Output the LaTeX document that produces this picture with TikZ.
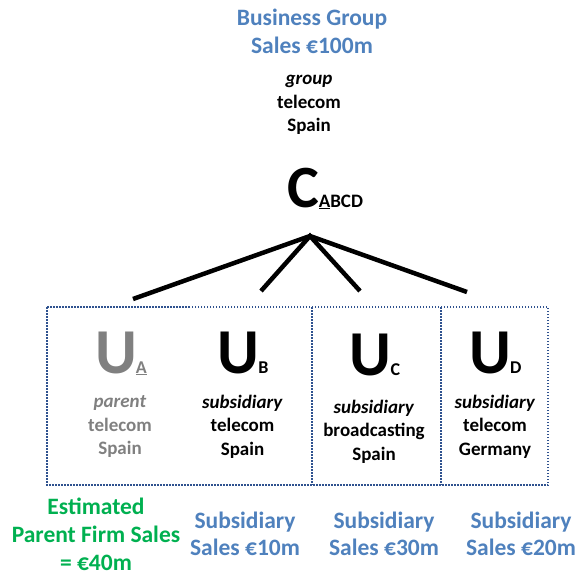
\documentclass[tikz,border=0pt]{standalone}
\usepackage{fontspec}
\setmainfont{Carlito}
\definecolor{bizblue}{RGB}{79,129,189}
\definecolor{estgreen}{RGB}{0,176,80}
\definecolor{boxnavy}{RGB}{47,82,143}
\definecolor{parentgray}{RGB}{128,128,128}
\begin{document}
\begin{tikzpicture}[x=1pt,y=-1pt,
  bluelabel/.style={text=bizblue, font=\bfseries\fontsize{23.5}{27.5}\selectfont, align=center, inner sep=0pt},
  greenlabel/.style={text=estgreen, font=\bfseries\fontsize{23.5}{28}\selectfont, align=center, inner sep=0pt},
  desc/.style={font=\bfseries\fontsize{19}{23.5}\selectfont, align=center, inner sep=0pt},
  bigletter/.style={font=\bfseries, inner sep=0pt, anchor=base},
  tie/.style={line width=4.5pt, black},
  dotbox/.style={boxnavy, line width=1.5pt, dash pattern=on 1.5pt off 1.5pt}
]
\useasboundingbox (0,0) rectangle (577,576);

% top titles
\node[bluelabel] (bg) at (312,31.5) {Business Group\\Sales €100m};
\node[desc] (gdesc) at (309,105) {\textit{group}\\telecom\\Spain};
\node[bigletter] (C) at (325,207) {{\fontsize{60}{60}\selectfont C}{\fontsize{19}{19}\selectfont\underline{A}BCD}};

% connectors
\coordinate (hub) at (310,236);
\coordinate (ea) at (133,299);
\coordinate (eb) at (261,291);
\coordinate (ec) at (360,291);
\coordinate (ed) at (467,292);
\draw[tie] (ea) -- (hub) -- (ed);
\draw[tie] (eb) -- (hub) -- (ec);

% dotted box
\draw[dotbox] (47,307) rectangle (548,485);
\draw[dotbox] (312,307) -- (312,485);
\draw[dotbox] (441,307) -- (441,485);

% units
\node[bigletter, text=parentgray] (UA) at (121,373) {{\fontsize{64}{64}\selectfont U}\hspace{-1pt}{\fontsize{18}{18}\selectfont\underline{A}}};
\node[bigletter] (UB) at (243,373) {{\fontsize{64}{64}\selectfont U}\hspace{-1pt}{\fontsize{18}{18}\selectfont B}};
\node[bigletter] (UC) at (375,375) {{\fontsize{64}{64}\selectfont U}\hspace{-1pt}{\fontsize{18}{18}\selectfont C}};
\node[bigletter] (UD) at (495.5,373) {{\fontsize{64}{64}\selectfont U}\hspace{-1pt}{\fontsize{18}{18}\selectfont D}};

\node[desc, text=parentgray] (da) at (120,426.5) {\textit{parent}\\telecom\\Spain};
\node[desc] (db) at (242.5,426.5) {\textit{subsidiary}\\telecom\\Spain};
\node[desc] (dc) at (374,431.5) {\textit{subsidiary}\\broadcasting\\Spain};
\node[desc] (dd) at (495,426.5) {\textit{subsidiary}\\telecom\\Germany};

% bottom labels
\node[greenlabel] (sa) at (96,534) {Estimated\\Parent Firm Sales\\= €40m};
\node[bluelabel] (sb) at (245,534) {Subsidiary\\Sales €10m};
\node[bluelabel] (sc) at (384,534) {Subsidiary\\Sales €30m};
\node[bluelabel] (sd) at (521,534) {Subsidiary\\Sales €20m};
\end{tikzpicture}
\end{document}
